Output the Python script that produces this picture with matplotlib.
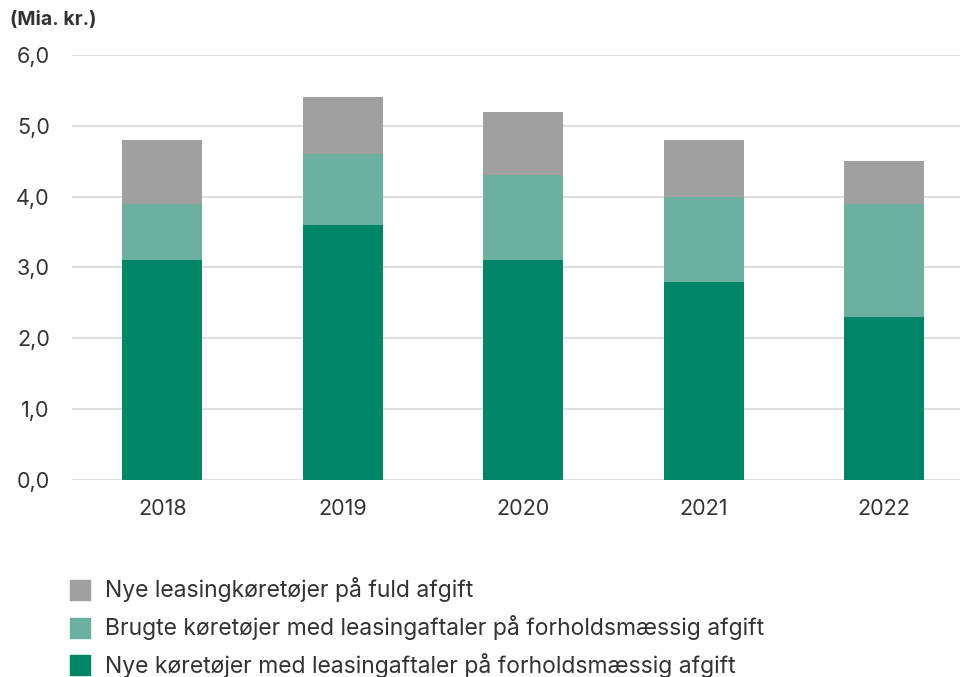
import matplotlib
matplotlib.use("Agg")
import matplotlib.pyplot as plt
from matplotlib.patches import Rectangle

years = ["2018", "2019", "2020", "2021", "2022"]
nye_fuld = [0.9, 0.8, 0.9, 0.8, 0.6]
brugte = [0.8, 1.0, 1.2, 1.2, 1.6]
nye_forhold = [3.1, 3.6, 3.1, 2.8, 2.3]
yticks = [0, 1, 2, 3, 4, 5, 6]
ytick_labels = ["0,0", "1,0", "2,0", "3,0", "4,0", "5,0", "6,0"]
labels = ["Nye leasingkøretøjer på fuld afgift",
          "Brugte køretøjer med leasingaftaler på forholdsmæssig afgift",
          "Nye køretøjer med leasingaftaler på forholdsmæssig afgift"]
colors = ["#a0a0a0", "#6bb0a0", "#008566"]

plt.rcParams['font.family'] = ['Inter', 'DejaVu Sans']
txt = "#333333"

fig = plt.figure(figsize=(9.6, 6.77), dpi=100)
ax = fig.add_axes([0.075, 0.291, 0.925, 0.6278])

x = list(range(len(years)))
w = 0.443
ax.bar(x, nye_forhold, width=w, color=colors[2], zorder=3)
b2 = [a for a in nye_forhold]
ax.bar(x, brugte, width=w, bottom=b2, color=colors[1], zorder=3)
b3 = [a + b for a, b in zip(nye_forhold, brugte)]
ax.bar(x, nye_fuld, width=w, bottom=b3, color=colors[0], zorder=3)

ax.set_xlim(-0.5, 4.42)
ax.set_ylim(0, 6)
ax.set_yticks(yticks)
ax.set_yticklabels(ytick_labels)
ax.set_xticks(x)
ax.set_xticklabels(years)
ax.grid(axis='y', color='#d9d9d9', linewidth=1.2, zorder=0)
for s in ax.spines.values():
    s.set_visible(False)
ax.tick_params(axis='both', length=0, labelsize=15.5, colors=txt)
ax.tick_params(axis='y', pad=16)
ax.tick_params(axis='x', pad=14)

fig.text(10/960, 1 - 20/677, "(Mia. kr.)", fontsize=14, fontweight='bold', color=txt,
         va='center', ha='left')

rows = [590, 628, 665]
for lab, col, yy in zip(labels, colors, rows):
    fig.patches.append(Rectangle((70/960, 1 - (yy + 10)/677), 20/960, 20/677,
                                 transform=fig.transFigure, color=col))
    fig.text(105/960, 1 - yy/677, lab, fontsize=16.5, color=txt, va='center', ha='left')

fig.savefig("out.png", dpi=100, facecolor='white')
